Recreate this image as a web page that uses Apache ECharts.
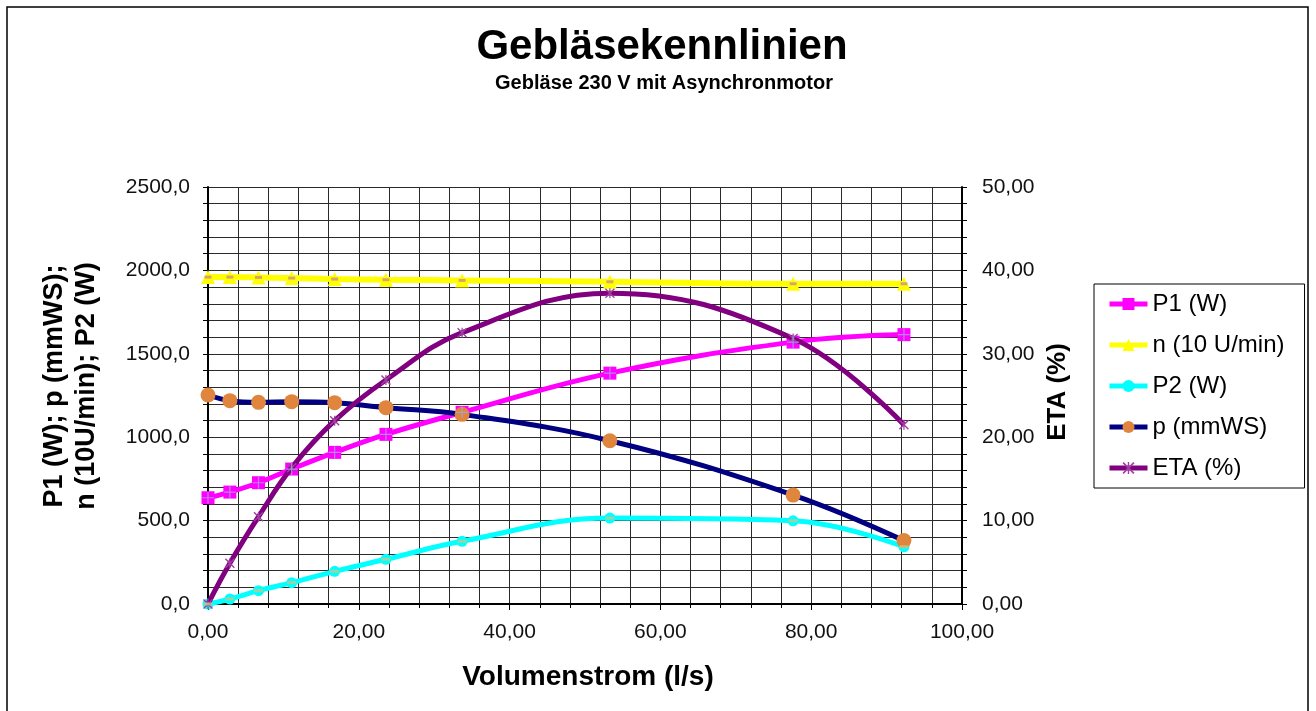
<!DOCTYPE html>
<html>
<head>
<meta charset="utf-8">
<script src="https://cdn.jsdelivr.net/npm/echarts@6/dist/echarts.min.js"></script>
<style>
html,body{margin:0;padding:0;background:#fff;}
#chart{width:1316px;height:711px;}
</style>
</head>
<body>
<div id="chart"></div>
<script>
// Volumenstrom (l/s)
const volumen = [0, 2.9, 6.7, 11.1, 16.8, 23.6, 33.7, 53.3, 77.6, 92.3];
// P1 (W)
const p1 = [637, 671, 727, 809, 909, 1017, 1149, 1384, 1570, 1615];
// n (10 U/min)
const drehzahl = [1960, 1960, 1958, 1954, 1948, 1944, 1940, 1932, 1920, 1920];
// P2 (W)
const p2 = [0, 30, 80, 128, 196, 268, 376, 515, 499, 343];
// p (mmWS)
const druck = [1253, 1219, 1209, 1213, 1207, 1177, 1137, 979, 653, 380];
// ETA (%)
const eta = [0, 4.88, 10.47, 16.35, 21.98, 26.86, 32.53, 37.27, 31.83, 21.5];

const seriesNames = ['P1 (W)', 'n (10 U/min)', 'P2 (W)', 'p (mmWS)', 'ETA (%)'];

function pairs(ys) { return volumen.map((x, i) => [x, ys[i]]); }

const FONT = 'Liberation Sans, Arial, sans-serif';
const asterisk = 'path://M0,1 L1,0 L10,9 L9,10 Z M9,0 L10,1 L1,10 L0,9 Z M4.4,0 L5.6,0 L5.6,10 L4.4,10 Z';

const chart = echarts.init(document.getElementById('chart'), null, {renderer: 'canvas'});

const gridLine = {show: true, lineStyle: {color: '#2a2a2a', width: 1}};

const option = {
  backgroundColor: '#fff',
  animation: false,
  textStyle: {fontFamily: FONT},
  grid: {left: 208, right: 354, top: 187, bottom: 107, show: false},
  legend: {
    data: seriesNames,
    orient: 'vertical',
    left: 1094,
    top: 284,
    padding: [8, 20, 8, 13],
    itemGap: 17,
    itemWidth: 38,
    itemHeight: 15,
    borderColor: '#000',
    borderWidth: 1,
    lineStyle: {width: 5},
    textStyle: {fontSize: 24, color: '#000', fontFamily: FONT}
  },
  xAxis: {
    type: 'value', min: 0, max: 100, interval: 20,
    axisLine: {show: true, onZero: false, lineStyle: {color: '#000', width: 2}},
    axisTick: {show: true, length: 6, lineStyle: {color: '#000'}},
    minorTick: {show: true, splitNumber: 5, length: 4, lineStyle: {color: '#000'}},
    splitLine: gridLine,
    minorSplitLine: gridLine,
    axisLabel: {
      margin: 18, fontSize: 21, color: '#111', fontFamily: FONT,
      formatter: v => v.toFixed(2).replace('.', ',')
    }
  },
  yAxis: [
    {
      type: 'value', min: 0, max: 2500, interval: 500, position: 'left',
      axisLine: {show: true, lineStyle: {color: '#000', width: 2}},
      axisTick: {show: true, length: 5, lineStyle: {color: '#000'}},
      minorTick: {show: true, splitNumber: 5, length: 5, lineStyle: {color: '#000'}},
      splitLine: gridLine,
      minorSplitLine: gridLine,
      axisLabel: {
        margin: 18, fontSize: 21, color: '#111', fontFamily: FONT,
        formatter: v => v.toFixed(1).replace('.', ',')
      }
    },
    {
      type: 'value', min: 0, max: 50, interval: 10, position: 'right',
      axisLine: {show: true, lineStyle: {color: '#000', width: 2}},
      axisTick: {show: true, length: 5, lineStyle: {color: '#000'}},
      minorTick: {show: true, splitNumber: 5, length: 5, lineStyle: {color: '#000'}},
      splitLine: {show: false},
      axisLabel: {
        margin: 20, fontSize: 21, color: '#111', fontFamily: FONT,
        formatter: v => v.toFixed(2).replace('.', ',')
      }
    }
  ],
  series: [
    {
      name: 'P1 (W)', type: 'line', smooth: 0.4, data: pairs(p1), yAxisIndex: 0,
      symbol: 'rect', symbolSize: 13, showSymbol: true,
      lineStyle: {color: '#FF00FF', width: 5},
      itemStyle: {color: '#FF00FF'}, z: 3
    },
    {
      name: 'n (10 U/min)', type: 'line', smooth: 0.4, data: pairs(drehzahl), yAxisIndex: 0,
      symbol: 'triangle', symbolSize: 14,
      lineStyle: {color: '#FFFF00', width: 6},
      itemStyle: {color: '#FFFF00'}, z: 2
    },
    {
      name: 'P2 (W)', type: 'line', smooth: 0.4, data: pairs(p2), yAxisIndex: 0,
      symbol: 'circle', symbolSize: 11,
      lineStyle: {color: '#00FFFF', width: 5},
      itemStyle: {color: '#00FFFF'}, z: 2
    },
    {
      name: 'p (mmWS)', type: 'line', smooth: 0.4, data: pairs(druck), yAxisIndex: 0,
      symbol: 'circle', symbolSize: 15,
      lineStyle: {color: '#000080', width: 5},
      itemStyle: {color: '#E0853D'}, z: 3
    },
    {
      name: 'ETA (%)', type: 'line', smooth: 0.4, data: pairs(eta), yAxisIndex: 1,
      symbol: asterisk, symbolSize: 10,
      lineStyle: {color: '#800080', width: 5},
      itemStyle: {color: '#A040A0'}, z: 4
    },
    // inner marker details (not in legend)
    {
      name: 'P1 inner', type: 'scatter', data: pairs(p1), yAxisIndex: 0, silent: true,
      symbol: 'path://M4.5,0 L5.5,0 L5.5,4.5 L10,4.5 L10,5.5 L5.5,5.5 L5.5,10 L4.5,10 L4.5,5.5 L0,5.5 L0,4.5 L4.5,4.5 Z',
      symbolSize: 12, itemStyle: {color: '#9FA8E8'}, z: 5
    },
    {
      name: 'n inner', type: 'scatter', data: pairs(drehzahl), yAxisIndex: 0, silent: true,
      symbol: 'rect', symbolSize: [7, 3], itemStyle: {color: '#D08C8C'}, z: 5
    },
    {
      name: 'P2 inner', type: 'scatter', data: pairs(p2), yAxisIndex: 0, silent: true,
      symbol: 'rect', symbolSize: [9, 3], itemStyle: {color: '#C0C890'}, z: 5
    }
  ],
  graphic: [
    {type: 'rect', shape: {x: 7, y: 7, width: 1301, height: 720}, style: {fill: 'none', stroke: '#000', lineWidth: 1.5}, silent: true},
    {type: 'text', x: 662, y: 47, style: {text: 'Gebläsekennlinien', font: 'bold 42px Liberation Sans, Arial, sans-serif', fill: '#000', textAlign: 'center', textVerticalAlign: 'middle'}},
    {type: 'text', x: 664, y: 83, style: {text: 'Gebläse 230 V mit Asynchronmotor', font: 'bold 20px Liberation Sans, Arial, sans-serif', fill: '#000', textAlign: 'center', textVerticalAlign: 'middle'}},
    {type: 'text', x: 588, y: 677, style: {text: 'Volumenstrom (l/s)', font: 'bold 28px Liberation Sans, Arial, sans-serif', fill: '#000', textAlign: 'center', textVerticalAlign: 'middle'}},
    {type: 'text', x: 55, y: 386, rotation: Math.PI / 2, style: {text: 'P1 (W); p (mmWS);', font: 'bold 27px Liberation Sans, Arial, sans-serif', fill: '#000', textAlign: 'center', textVerticalAlign: 'middle'}},
    {type: 'text', x: 87, y: 386, rotation: Math.PI / 2, style: {text: 'n (10U/min); P2 (W)', font: 'bold 27px Liberation Sans, Arial, sans-serif', fill: '#000', textAlign: 'center', textVerticalAlign: 'middle'}},
    {type: 'text', x: 1058, y: 392, rotation: Math.PI / 2, style: {text: 'ETA (%)', font: 'bold 26px Liberation Sans, Arial, sans-serif', fill: '#000', textAlign: 'center', textVerticalAlign: 'middle'}}
  ]
};

chart.setOption(option);
</script>
</body>
</html>
